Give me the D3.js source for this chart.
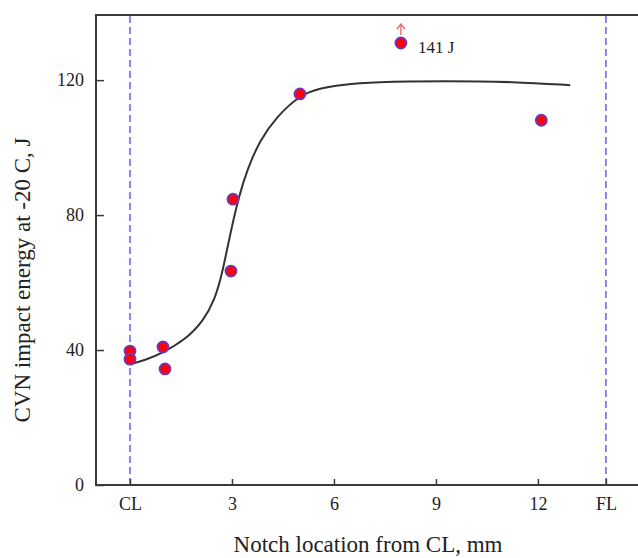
<!DOCTYPE html>
<html><head><meta charset="utf-8">
<script src="https://cdn.jsdelivr.net/npm/d3@7"></script>
<style>body{margin:0;background:#fff}svg{display:block}svg text{font-family:"Liberation Serif","DejaVu Serif","Times New Roman",serif}</style>
</head><body>
<svg id="c" width="638" height="558"></svg>
<script>
// Data
const pointX = [0, 0, 0.97, 1.03, 3.03, 2.97, 5.0, 7.97, 12.1];
const pointY = [39.7, 37.3, 40.9, 34.4, 84.7, 63.4, 115.9, 131, 108.1];
const curveX = [0, 0.5, 0.93, 1.62, 2.15, 2.5, 2.72, 2.95, 3.2, 3.45, 3.82, 4.31, 5.0, 5.59, 6.2, 7.15, 9.3, 11.3, 12.95];
const curveY = [35.8, 37.2, 39.0, 43.0, 48.5, 55.0, 63.0, 74.5, 85.5, 93.5, 102.2, 109.1, 115.6, 117.6, 118.6, 119.5, 119.8, 119.5, 118.5];
const xTickValues = [0, 3, 6, 9, 12, 14];
const xTickLabels = ["CL", "3", "6", "9", "12", "FL"];
const yTickValues = [0, 40, 80, 120];
const refLines = [0, 14];
const annotation = {x: 7.97, y: 131, text: "141 J"};

const svg = d3.select("#c");
const mLeft = 96, mTop = 15, mBottom = 485, mRight = 645;
const x = d3.scaleLinear().domain([-1, 15.15]).range([mLeft, mRight]);
const y = d3.scaleLinear().domain([0, 139.3]).range([mBottom, mTop]);
const font = "Liberation Serif";

// frame
svg.append("rect").attr("x", mLeft).attr("y", mTop).attr("width", mRight - mLeft).attr("height", mBottom - mTop)
  .attr("fill", "none").attr("stroke", "#3a3a3a").attr("stroke-width", 2);

// reference dashed lines
svg.selectAll(".ref").data(refLines).join("line")
  .attr("x1", d => x(d)).attr("x2", d => x(d)).attr("y1", mTop + 1).attr("y2", mBottom)
  .attr("stroke", "#5a63f0").attr("stroke-width", 1.5).attr("stroke-dasharray", "7,4");

// axes
const xAxis = d3.axisBottom(x).tickValues(xTickValues).tickFormat((d, i) => xTickLabels[i]).tickSizeInner(-6).tickSizeOuter(0).tickPadding(12);
const gx = svg.append("g").attr("transform", `translate(0,${mBottom})`).call(xAxis);
gx.attr("font-family", null);
gx.select(".domain").remove();
gx.selectAll("line").attr("stroke", "#3a3a3a").attr("stroke-width", 1.5);
gx.selectAll("text").style("font-family", font).attr("font-size", 18).attr("fill", "#222");

const yAxis = d3.axisLeft(y).tickValues(yTickValues).tickSizeInner(-8).tickSizeOuter(0).tickPadding(12);
const gy = svg.append("g").attr("transform", `translate(${mLeft},0)`).call(yAxis);
gy.attr("font-family", null);
gy.select(".domain").remove();
gy.selectAll("line").attr("stroke", "#3a3a3a").attr("stroke-width", 1.5);
gy.selectAll("text").style("font-family", font).attr("font-size", 18).attr("fill", "#222");

// curve
const curveData = curveX.map((v, i) => [v, curveY[i]]);
svg.append("path").datum(curveData)
  .attr("d", d3.line().x(d => x(d[0])).y(d => y(d[1])).curve(d3.curveBasis))
  .attr("fill", "none").attr("stroke", "#333").attr("stroke-width", 2);

// points
const pts = pointX.map((v, i) => [v, pointY[i]]);
svg.selectAll(".pt").data(pts).join("circle")
  .attr("cx", d => x(d[0])).attr("cy", d => y(d[1])).attr("r", 5.5)
  .attr("fill", "#ff0010").attr("stroke", "#6a3ab8").attr("stroke-width", 1.8);

// arrow annotation
const ax = x(annotation.x), ay = y(annotation.y);
svg.append("line").attr("x1", ax).attr("x2", ax).attr("y1", ay - 8).attr("y2", ay - 19)
  .attr("stroke", "#f06060").attr("stroke-width", 1.3);
svg.append("path").attr("d", `M${ax - 4},${ay - 14} L${ax},${ay - 19} L${ax + 4},${ay - 14}`)
  .attr("fill", "none").attr("stroke", "#f06060").attr("stroke-width", 1.3);
svg.append("text").attr("x", ax + 17).attr("y", ay + 10).text(annotation.text)
  .style("font-family", font).attr("font-size", 17).attr("fill", "#222");

// axis titles
svg.append("text").attr("x", 368).attr("y", 552).attr("text-anchor", "middle")
  .style("font-family", font).attr("font-size", 23).attr("fill", "#222").text("Notch location from CL, mm");
svg.append("text").attr("transform", "translate(30,280) rotate(-90)").attr("text-anchor", "middle")
  .style("font-family", font).attr("font-size", 23).attr("fill", "#222").text("CVN impact energy at -20 C, J");
</script>
</body></html>
